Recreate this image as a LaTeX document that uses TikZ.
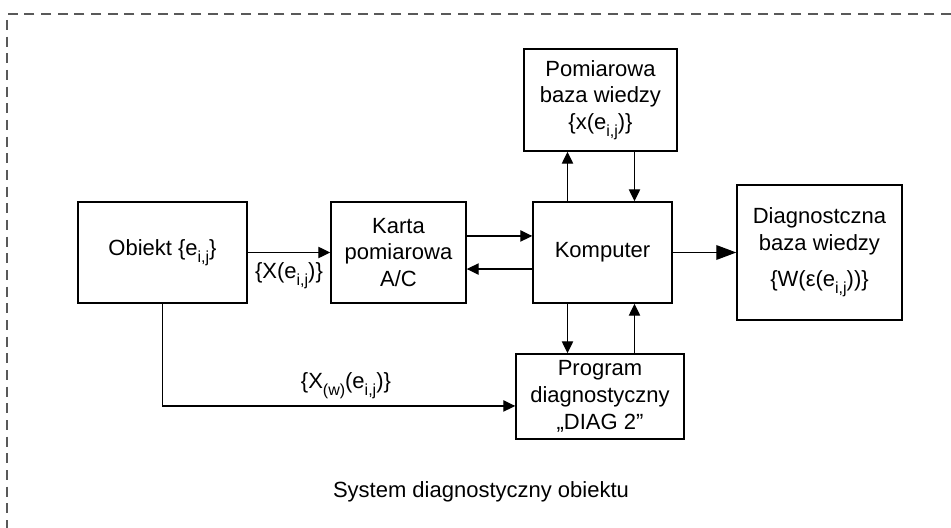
\documentclass[tikz,border=0pt]{standalone}
\usepackage{fontspec}
\setmainfont{Liberation Sans}
\usepackage{tikz}
\usetikzlibrary{arrows.meta}

\newcommand{\ind}[1]{\raisebox{-0.6ex}{\fontsize{12}{12}\selectfont #1}}

\begin{document}
\begin{tikzpicture}[
			x=0.75pt, y=-0.75pt,
			every node/.style={font=\fontsize{16.5}{20}\selectfont, align=center},
			blok/.style={draw, line width=1.1pt, inner sep=2pt},
			strz/.style={line width=1pt, -{Triangle[length=9pt,width=8.5pt]}},
			grubastrz/.style={line width=1pt, -{Triangle[length=15pt,width=11pt]}},
			etyk/.style={inner sep=0pt}
			]
			\useasboundingbox (0,0) rectangle (951,528);
			\draw[black!65, line width=0.8pt, dash pattern=on 7.5pt off 5pt] (951,14) -- (7,14) -- (7,528);
			
			\node[blok, minimum width=126.75pt, minimum height=75.75pt] (obiekt) at (162.5,252.5) {Obiekt \{e\ind{i,j}\}};
			\node[blok, minimum width=101.25pt, minimum height=75.75pt] (karta) at (398.5,252.5) {Karta\\pomiarowa\\A/C};
			\node[blok, minimum width=104.25pt, minimum height=75.75pt] (komp) at (602.5,252.5) {Komputer};
			\node[blok, minimum width=114.75pt, minimum height=76.5pt] (pom) at (600.5,100) {Pomiarowa\\baza wiedzy\\\{x(e\ind{i,j})\}};
			\node[blok, minimum width=123.75pt, minimum height=101.25pt] (diag) at (819.5,252.5) {Diagnostczna\\baza wiedzy\\[7pt]\{W(ε(e\ind{i,j}))\}};
			\node[blok, minimum width=126pt, minimum height=63.75pt] (prog) at (600,396.5) {Program\\diagnostyczny\\„DIAG 2”};
			\node (tytul) at (481,492) {System diagnostyczny obiektu};
			
			\draw[strz] (obiekt) -- node[etyk, below=7pt] (xe) {\{X(e\ind{i,j})\}} (karta);
			\draw[strz] ([yshift=12.4pt]karta.east) -- ([yshift=12.4pt]komp.west);
			\draw[strz] ([yshift=-12.4pt]komp.west) -- ([yshift=-12.4pt]karta.east);
			\draw[grubastrz] (komp) -- (diag);
			\draw[strz] ([xshift=-26.25pt]komp.north) -- ([xshift=-26.25pt]komp.north |- pom.south);
			\draw[strz] ([xshift=24pt]komp.north |- pom.south) -- ([xshift=24pt]komp.north);
			\draw[strz] ([xshift=-26.25pt]komp.south) -- ([xshift=-26.25pt]komp.south |- prog.north);
			\draw[strz] ([xshift=24pt]komp.south |- prog.north) -- ([xshift=24pt]komp.south);
			\draw[strz] (obiekt.south) |- node[etyk, pos=0.76, above=5pt] (xw) {\{X\ind{(w)}(e\ind{i,j})\}} ([yshift=-7.1pt]prog.west);
		\end{tikzpicture}
\end{document}
